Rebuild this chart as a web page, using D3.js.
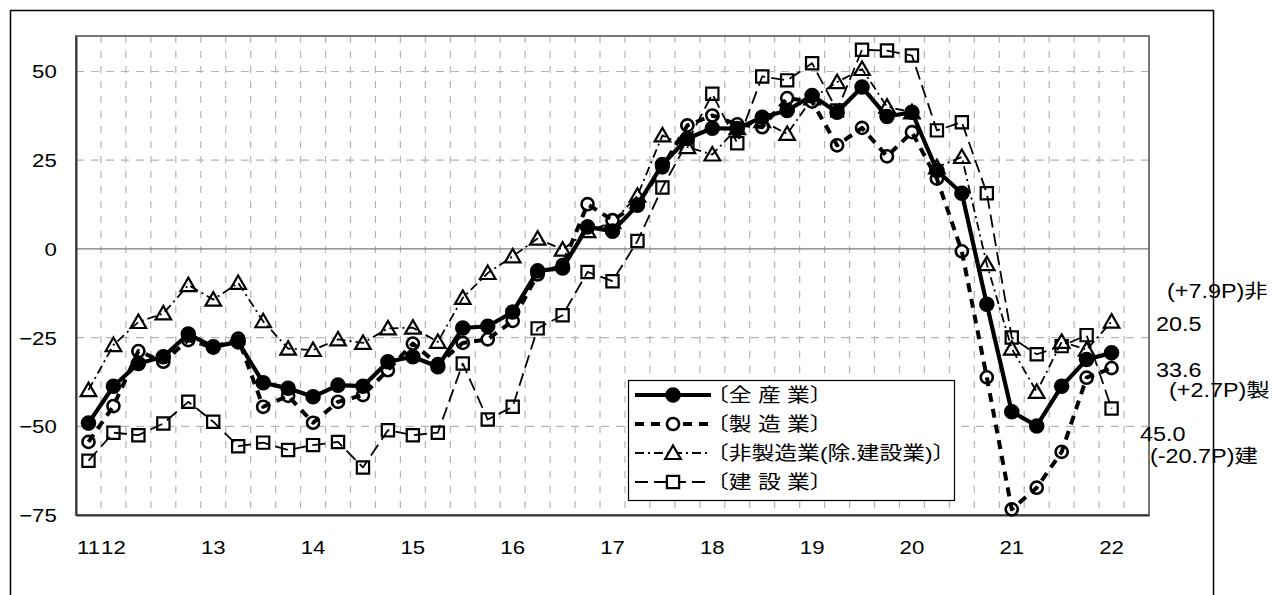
<!DOCTYPE html>
<html>
<head>
<meta charset="utf-8">
<script src="https://cdn.jsdelivr.net/npm/d3@7"></script>
<style>
  body { margin: 0; background: #fff; }
  svg { display: block; }
  text { font-family: "Liberation Sans", "Noto Sans CJK JP", sans-serif; fill: #000; }
</style>
</head>
<body>
<svg id="chart" width="1273" height="595"></svg>
<script>
// Quarterly periods, 2011 Q4 to 2022 Q2 (last slot left empty)
const periods = [
  "2011Q4",
  "2012Q1","2012Q2","2012Q3","2012Q4",
  "2013Q1","2013Q2","2013Q3","2013Q4",
  "2014Q1","2014Q2","2014Q3","2014Q4",
  "2015Q1","2015Q2","2015Q3","2015Q4",
  "2016Q1","2016Q2","2016Q3","2016Q4",
  "2017Q1","2017Q2","2017Q3","2017Q4",
  "2018Q1","2018Q2","2018Q3","2018Q4",
  "2019Q1","2019Q2","2019Q3","2019Q4",
  "2020Q1","2020Q2","2020Q3","2020Q4",
  "2021Q1","2021Q2","2021Q3","2021Q4",
  "2022Q1","2022Q2"
];
// Year labels shown on the category axis
const xTickLabels = [
  "11","12","","","","13","","","","14","","","","15","","","","16","","","",
  "17","","","","18","","","","19","","","","20","","","","21","","","","22",""
];
const yTicks = [50, 25, 0, -25, -50, -75];

// Series values
const allIndustries = [
  -49.1, -38.7, -32.3, -30.4, -24.0, -27.6, -26.2, -37.7, -39.3, -41.7, -38.4,
  -38.7, -31.8, -30.4, -33.2, -22.3, -21.8, -17.8, -6.2, -5.4, 6.2, 5.0,
  12.3, 23.8, 31.1, 34.0, 33.9, 37.1, 39.0, 43.2, 38.5, 45.6, 37.3,
  38.5, 22.1, 15.7, -15.6, -45.9, -49.9, -38.7, -31.2, -29.3
];
const manufacturing = [
  -54.4, -44.3, -28.8, -31.8, -25.7, -27.8, -25.3, -44.5, -41.4, -49.0, -43.1,
  -41.2, -34.2, -26.7, -32.5, -26.5, -25.5, -20.3, -7.2, -4.6, 12.6, 8.1,
  12.5, 23.0, 34.8, 37.6, 35.1, 34.3, 42.5, 41.5, 29.2, 34.1, 26.1,
  32.9, 19.8, -0.7, -36.2, -73.4, -67.3, -57.2, -36.3, -33.6
];
const nonManufacturing = [
  -39.8, -27.1, -20.6, -18.2, -10.2, -14.3, -9.6, -20.4, -28.1, -28.5, -25.5,
  -26.5, -22.4, -22.2, -26.2, -13.8, -6.8, -2.1, 2.9, -0.2, 5.0, 7.5,
  15.0, 32.0, 28.7, 26.6, 34.0, 36.0, 32.4, 42.4, 47.0, 50.7, 40.1,
  38.5, 23.0, 25.9, -4.3, -28.1, -40.3, -26.2, -28.4, -20.5
];
const construction = [
  -59.7, -51.8, -52.5, -49.2, -43.1, -48.7, -55.6, -54.6, -56.7, -55.3, -54.4,
  -61.6, -51.1, -52.5, -51.8, -32.3, -48.1, -44.5, -22.4, -18.7, -6.5, -9.1,
  2.2, 17.3, 30.0, 43.7, 29.8, 48.6, 47.5, 52.3, 39.0, 56.1, 55.9,
  54.5, 33.4, 35.7, 15.7, -25.0, -29.7, -27.4, -24.3, -45.0
];
const seriesNames = ["〔全 産 業〕", "〔製 造 業〕", "〔非製造業(除.建設業)〕", "〔建 設 業〕"];

// Annotations at the right edge: latest values and change from previous quarter
const sideNotes = [
  { text: "(+7.9P)非", x: 1167, y: 291 },
  { text: "20.5",      x: 1156, y: 324 },
  { text: "33.6",      x: 1156, y: 370 },
  { text: "(+2.7P)製", x: 1169, y: 390 },
  { text: "45.0",      x: 1140, y: 434 },
  { text: "(-20.7P)建", x: 1150, y: 456 }
];

// ---- layout ----
const plot = { left: 76, top: 36, right: 1149, bottom: 515 };
const SX = 1.2; // horizontal text stretch

const svg = d3.select("#chart");

const x = d3.scaleBand().domain(d3.range(periods.length))
  .range([plot.left, plot.right]).padding(0);
const cx = i => x(i) + x.bandwidth() / 2;
const y = d3.scaleLinear().domain([-75, 60]).range([plot.bottom, plot.top]);

// outer frame
svg.append("rect").attr("x", 10.5).attr("y", 10.5).attr("width", 1203).attr("height", 700)
  .attr("fill", "none").attr("stroke", "#000").attr("stroke-width", 1.5);

// gridlines
const grid = svg.append("g");
grid.selectAll("line.v").data(d3.range(1, periods.length)).join("line")
  .attr("class", "v")
  .attr("x1", k => x(k)).attr("x2", k => x(k))
  .attr("y1", plot.top).attr("y2", plot.bottom)
  .attr("stroke", "#b4b4b4").attr("stroke-width", 1.2).attr("stroke-dasharray", "7,8");
grid.selectAll("line.h").data(yTicks.filter(v => v !== 0 && v !== -75)).join("line")
  .attr("class", "h")
  .attr("x1", plot.left).attr("x2", plot.right)
  .attr("y1", d => y(d)).attr("y2", d => y(d))
  .attr("stroke", "#b4b4b4").attr("stroke-width", 1.2).attr("stroke-dasharray", "8,7");
// zero line
svg.append("line").attr("x1", plot.left).attr("x2", plot.right)
  .attr("y1", y(0)).attr("y2", y(0)).attr("stroke", "#7a7a7a").attr("stroke-width", 1.2);

// plot border
svg.append("rect").attr("x", plot.left).attr("y", plot.top)
  .attr("width", plot.right - plot.left).attr("height", plot.bottom - plot.top)
  .attr("fill", "none").attr("stroke", "#777").attr("stroke-width", 2);

// y axis
const yAxis = svg.append("g").attr("transform", `translate(${plot.left},0)`)
  .call(d3.axisLeft(y).tickValues(yTicks).tickSize(0).tickFormat(d => d3.format("d")(d)));
yAxis.select(".domain").attr("stroke", "#333").attr("stroke-width", 2);
yAxis.selectAll(".tick text")
  .attr("x", -16).attr("dy", "0.35em")
  .attr("font-size", 18.5).attr("transform", `scale(${SX},1)`)
  .style("font-family", '"Liberation Sans", sans-serif');

// x axis
const xAxis = svg.append("g").attr("transform", `translate(0,${plot.bottom})`)
  .call(d3.axisBottom(x).tickSize(0)
    .tickValues(d3.range(periods.length).filter(i => xTickLabels[i] !== ""))
    .tickFormat(i => xTickLabels[i]));
xAxis.select(".domain").attr("stroke", "#333").attr("stroke-width", 2);
xAxis.selectAll(".tick text")
  .attr("y", 33).attr("dy", "0.35em")
  .attr("font-size", 18.5).attr("transform", `scale(${SX},1)`)
  .style("font-family", '"Liberation Sans", sans-serif');

// series styles
const series = [
  { name: seriesNames[3], values: construction, width: 1.8, dash: "13,6", marker: "square" },
  { name: seriesNames[2], values: nonManufacturing, width: 1.8, dash: "9,4,2,4", marker: "triangle" },
  { name: seriesNames[1], values: manufacturing, width: 4, dash: "9,7", marker: "open" },
  { name: seriesNames[0], values: allIndustries, width: 4.2, dash: null, marker: "filled" }
];

const symbolFor = m => {
  if (m === "square") return d3.symbol().type(d3.symbolSquare).size(150);
  if (m === "triangle") return d3.symbol().type(d3.symbolTriangle).size(105);
  return d3.symbol().type(d3.symbolCircle).size(m === "filled" ? 140 : 115);
};
const drawMarker = (sel, m) => {
  sel.attr("d", symbolFor(m)())
    .attr("fill", m === "filled" ? "#000" : "#fff")
    .attr("stroke", "#000")
    .attr("stroke-width", m === "open" ? 2.6 : 2.2);
};

const line = d3.line().x((d, i) => cx(i)).y(d => y(d));

series.forEach(s => {
  const g = svg.append("g");
  g.selectAll("path.mk").data(s.values).join("path")
    .attr("class", "mk")
    .attr("transform", (d, i) => `translate(${cx(i)},${y(d) + (s.marker === "triangle" ? 1.5 : 0)})`)
    .call(drawMarker, s.marker);
  g.append("path").datum(s.values)
    .attr("d", line)
    .attr("fill", "none").attr("stroke", "#000")
    .attr("stroke-width", s.width)
    .attr("stroke-dasharray", s.dash)
    .attr("stroke-linejoin", "round");
  if (s.marker === "filled") {
    g.selectAll("path.mk").raise();
  }
});

// legend
const legend = svg.append("g");
legend.append("rect").attr("x", 628.5).attr("y", 380.5).attr("width", 326).attr("height", 120)
  .attr("fill", "#fff").attr("stroke", "#000").attr("stroke-width", 1.2);
const legendRows = [series[3], series[2], series[1], series[0]];
const rowY = [395, 424, 453, 482];
legendRows.forEach((s, k) => {
  const ly = rowY[k];
  legend.append("line").attr("x1", 635).attr("x2", 711).attr("y1", ly).attr("y2", ly)
    .attr("stroke", "#000").attr("stroke-width", s.width)
    .attr("stroke-dasharray", s.dash);
  legend.append("path").attr("transform", `translate(673,${ly + (s.marker === "triangle" ? 1.5 : 0)})`)
    .call(drawMarker, s.marker);
  legend.append("text")
    .attr("transform", `translate(706,${ly}) scale(1.2,1)`)
    .attr("dy", "0.36em").attr("font-size", 19)
    .text(s.name);
});

// right-side annotations
svg.append("g").selectAll("text").data(sideNotes).join("text")
  .attr("transform", d => `translate(${d.x},${d.y}) scale(${SX},1)`)
  .attr("dy", "0.36em").attr("font-size", 19.5)
  .text(d => d.text);
</script>
</body>
</html>
